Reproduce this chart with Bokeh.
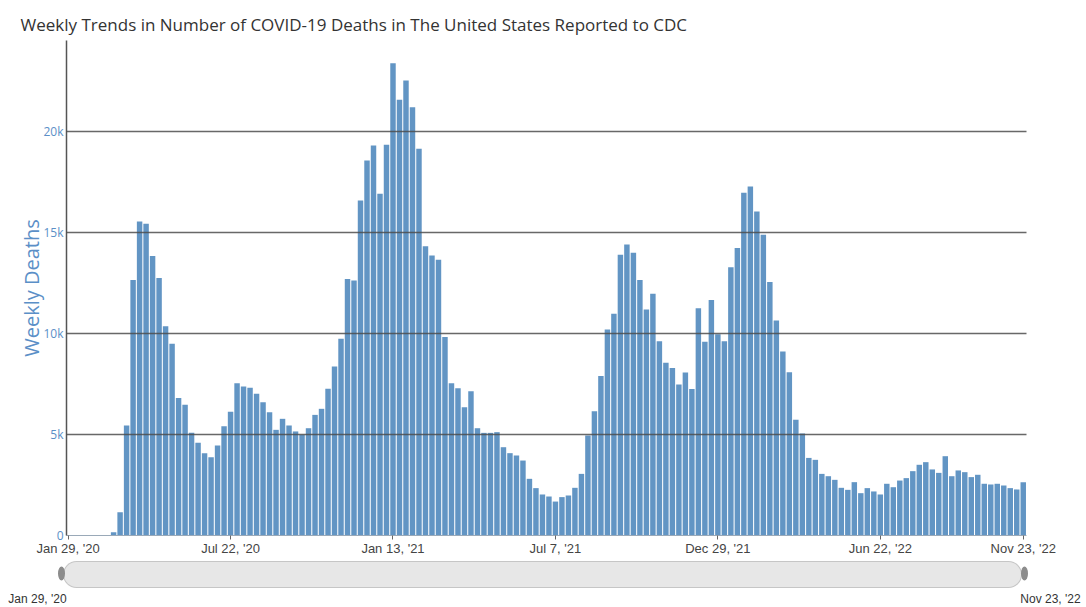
from bokeh.plotting import figure
from bokeh.models import Range1d, FixedTicker, ColumnDataSource
from bokeh.embed import file_html
from bokeh.resources import INLINE
from bokeh.core.properties import value

# ---- data ----
title_text = "Weekly Trends in Number of COVID-19 Deaths in The United States Reported to CDC"
y_label = "Weekly Deaths"
week_index = list(range(148))
deaths = [
    0, 0, 0, 0, 0, 0, 0, 160, 1150, 5450,
    12650, 15540, 15430, 13840, 12740, 10360, 9490, 6810, 6470, 5080,
    4590, 4070, 3870, 4450, 5410, 6120, 7540, 7380, 7310, 7010,
    6600, 6100, 5230, 5775, 5445, 5150, 4985, 5310, 5970, 6270,
    7260, 8365, 9735, 12700, 12620, 16580, 18560, 19300, 16910, 19340,
    23380, 21570, 22520, 21200, 19140, 14320, 13860, 13650, 9820, 7530,
    7290, 6350, 7140, 5310, 5080, 5080, 5115, 4370, 4075, 3960,
    3710, 2805, 2345, 2030, 1930, 1680, 1900, 1980, 2360, 3050,
    4950, 6150, 7890, 10200, 10970, 13890, 14400, 13990, 12650, 11190,
    11960, 9620, 8550, 8285, 7475, 8070, 7250, 11250, 9590, 11650,
    9960, 9620, 13280, 14230, 16960, 17270, 16040, 14880, 12550, 10640,
    9110, 8085, 5730, 5050, 3840, 3745, 3050, 2935, 2755, 2360,
    2260, 2640, 2095, 2345, 2180, 2030, 2560, 2390, 2720, 2840,
    3185, 3500, 3630, 3270, 3100, 3925, 2935, 3220, 3135, 2890,
    3005, 2560, 2525, 2560, 2475, 2345, 2280, 2640,
]
x_tick_weeks = [0, 25, 50, 75, 100, 125, 147]
x_tick_labels = ["Jan 29, '20", "Jul 22, '20", "Jan 13, '21", "Jul 7, '21",
                 "Dec 29, '21", "Jun 22, '22", "Nov 23, '22"]
y_ticks = [0, 5000, 10000, 15000, 20000]
y_tick_labels = ["0", "5k", "10k", "15k", "20k"]

BLUE = "#5b8fc7"
BAR = "#6295c4"

source = ColumnDataSource(dict(week=week_index, deaths=deaths))

p = figure(width=1080, height=558, output_backend="svg", toolbar_location=None,
           x_range=Range1d(-0.25, 147.5), y_range=Range1d(0, 24500),
           min_border_left=66, min_border_right=54, min_border_top=40,
           min_border_bottom=23, title=title_text)
p.outline_line_color = None
p.background_fill_color = "white"
p.border_fill_color = "white"

p.title.text_font = "Open Sans"
p.title.text_font_size = "17px"
p.title.text_font_style = "normal"
p.title.text_color = "#333333"
p.title.align = "left"
p.title.offset = -46
p.title.standoff = 10

p.vbar(x="week", top="deaths", width=0.84, source=source,
       fill_color=BAR, line_color=None)

# x axis
p.xaxis.ticker = FixedTicker(ticks=x_tick_weeks)
p.xaxis.major_label_overrides = {w: l for w, l in zip(x_tick_weeks, x_tick_labels)}
p.xaxis.major_label_text_font = "Liberation Sans"
p.xaxis.major_label_text_font_size = "13px"
p.xaxis.major_label_text_color = "#444444"
p.xaxis.major_label_standoff = 1
p.xaxis.major_tick_out = 4
p.xaxis.major_tick_in = 0
p.xaxis.major_tick_line_color = "#666666"
p.xaxis.minor_tick_line_color = None
p.xaxis.axis_line_color = "#9aa9b8"
p.xaxis.axis_line_width = 1
p.xgrid.visible = False

# y axis
p.yaxis.ticker = FixedTicker(ticks=y_ticks)
p.yaxis.major_label_overrides = {t: l for t, l in zip(y_ticks, y_tick_labels)}
p.yaxis.major_label_text_font = "Open Sans"
p.yaxis.major_label_text_font_size = "12px"
p.yaxis.major_label_text_color = BLUE
p.yaxis.major_label_standoff = 3
p.yaxis.major_tick_out = 0
p.yaxis.major_tick_in = 0
p.yaxis.minor_tick_line_color = None
p.yaxis.axis_line_color = "#555555"
p.yaxis.axis_line_width = 1.5
p.yaxis.axis_label = y_label
p.yaxis.axis_label_text_font = "Open Sans"
p.yaxis.axis_label_text_font_size = "20px"
p.yaxis.axis_label_text_font_style = "normal"
p.yaxis.axis_label_text_color = BLUE
p.yaxis.axis_label_standoff = -5

p.ygrid.ticker = FixedTicker(ticks=y_ticks[1:])
p.ygrid.grid_line_color = "#4d4d4d"
p.ygrid.grid_line_width = 1.3
p.ygrid.grid_line_alpha = 0.85
p.ygrid.level = "overlay"

# ---- navigator strip (separate root, pixel coordinates) ----
nav = figure(width=1086, height=48, output_backend="svg", toolbar_location=None,
             x_range=Range1d(0, 1086), y_range=Range1d(0, 48),
             x_axis_type=None, y_axis_type=None,
             min_border=0, min_border_left=0, min_border_right=0,
             min_border_top=0, min_border_bottom=0)
nav.outline_line_color = None
nav.grid.visible = False
cap_left, cap_right, cap_y = 76, 1008, 32
nav.line([cap_left, cap_right], [cap_y, cap_y], line_width=27, line_color="#c6c6c6", line_cap="round")
nav.line([cap_left, cap_right], [cap_y, cap_y], line_width=25, line_color="#e7e7e7", line_cap="round")
nav.ellipse(x=[61, 1024], y=[cap_y + 1, cap_y + 1], width=7, height=14,
            fill_color="#8c8c8c", line_color=None)
nav.text(x=[37, 1050], y=[8, 8], text=[x_tick_labels[0], x_tick_labels[-1]],
         text_font=value("Liberation Sans"), text_font_size="12px",
         text_color="#333333", text_align="center", text_baseline="middle")

open("out.html", "w").write(file_html([p, nav], INLINE))
